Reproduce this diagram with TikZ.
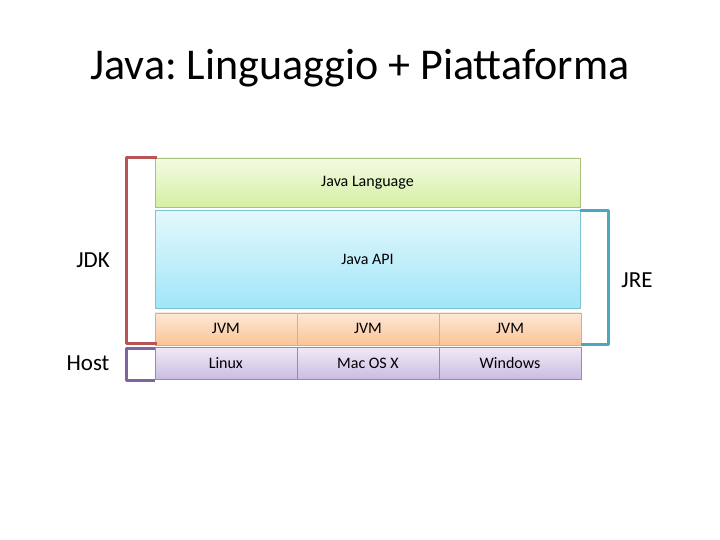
\documentclass[tikz,border=0pt]{standalone}
\usepackage{fontspec}
\setmainfont{Carlito}
\usepackage{tikz}
\usetikzlibrary{positioning}
\definecolor{langtop}{HTML}{F4FBE2}
\definecolor{langbot}{HTML}{D4EFA4}
\definecolor{langline}{HTML}{A8C47C}
\definecolor{apitop}{HTML}{E4F8FC}
\definecolor{apibot}{HTML}{A0E6F8}
\definecolor{apiline}{HTML}{7CC4D6}
\definecolor{jvmtop}{HTML}{FDE8D8}
\definecolor{jvmbot}{HTML}{FBC496}
\definecolor{jvmline}{HTML}{E8A878}
\definecolor{ostop}{HTML}{F0EAF6}
\definecolor{osbot}{HTML}{CABCE2}
\definecolor{osline}{HTML}{9A88B4}
\definecolor{jdkred}{HTML}{B85454}
\definecolor{hostpurple}{HTML}{7E64A0}
\definecolor{jreteal}{HTML}{4BA6BE}
\frenchspacing

\begin{document}
\begin{tikzpicture}[
  layer/.style={draw, inner sep=0pt, font=\fontsize{16}{18}\selectfont},
  langbox/.style={layer, draw=langline, top color=langtop, bottom color=langbot,
    minimum width=425pt, minimum height=49pt},
  apibox/.style={layer, draw=apiline, top color=apitop, bottom color=apibot,
    minimum width=425pt, minimum height=98pt},
  jvmbox/.style={layer, draw=jvmline, top color=jvmtop, bottom color=jvmbot,
    minimum width=141.7pt, minimum height=32pt},
  osbox/.style={layer, draw=osline, top color=ostop, bottom color=osbot,
    minimum width=141.7pt, minimum height=32pt},
  brace/.style={line width=3pt, line join=round},
  side/.style={font=\fontsize{23}{27}\selectfont}
]
\useasboundingbox (0,0) rectangle (720pt,-540pt);

\node[font=\fontsize{44}{52}\selectfont] (title) at (360pt,-68pt) {Java: Linguaggio + Piattaforma};

% the layers
\node[langbox] (lang) at (367.5pt,-182.5pt) {Java Language};
\node[apibox, below=3pt of lang] (api) {Java API};
\node[jvmbox, below right=4pt and 0pt of api.south west] (jvm1) {JVM};
\node[jvmbox, right=0pt of jvm1] (jvm2) {JVM};
\node[jvmbox, right=0pt of jvm2] (jvm3) {JVM};
\node[osbox, below=2pt of jvm1] (os1) {Linux};
\node[osbox, below=2pt of jvm2] (os2) {Mac OS X};
\node[osbox, below=2pt of jvm3] (os3) {Windows};

% brackets
\draw[brace, jdkred] ([xshift=2pt]lang.north west) -- ++(-30pt,0) |- ([xshift=2pt,yshift=2pt]jvm1.south west);
\draw[brace, hostpurple] ([yshift=-1pt]os1.north west) -- ++(-28pt,0) |- ([yshift=-1pt]os1.south west);
\draw[brace, jreteal] (api.north east) -- ++(28pt,0) |- ([yshift=1pt]jvm3.south east);

\node[side] (jdk) at (93pt,-260pt) {JDK};
\node[side] (host) at (88pt,-363pt) {Host};
\node[side] (jre) at (637pt,-280pt) {JRE};
\end{tikzpicture}
\end{document}
